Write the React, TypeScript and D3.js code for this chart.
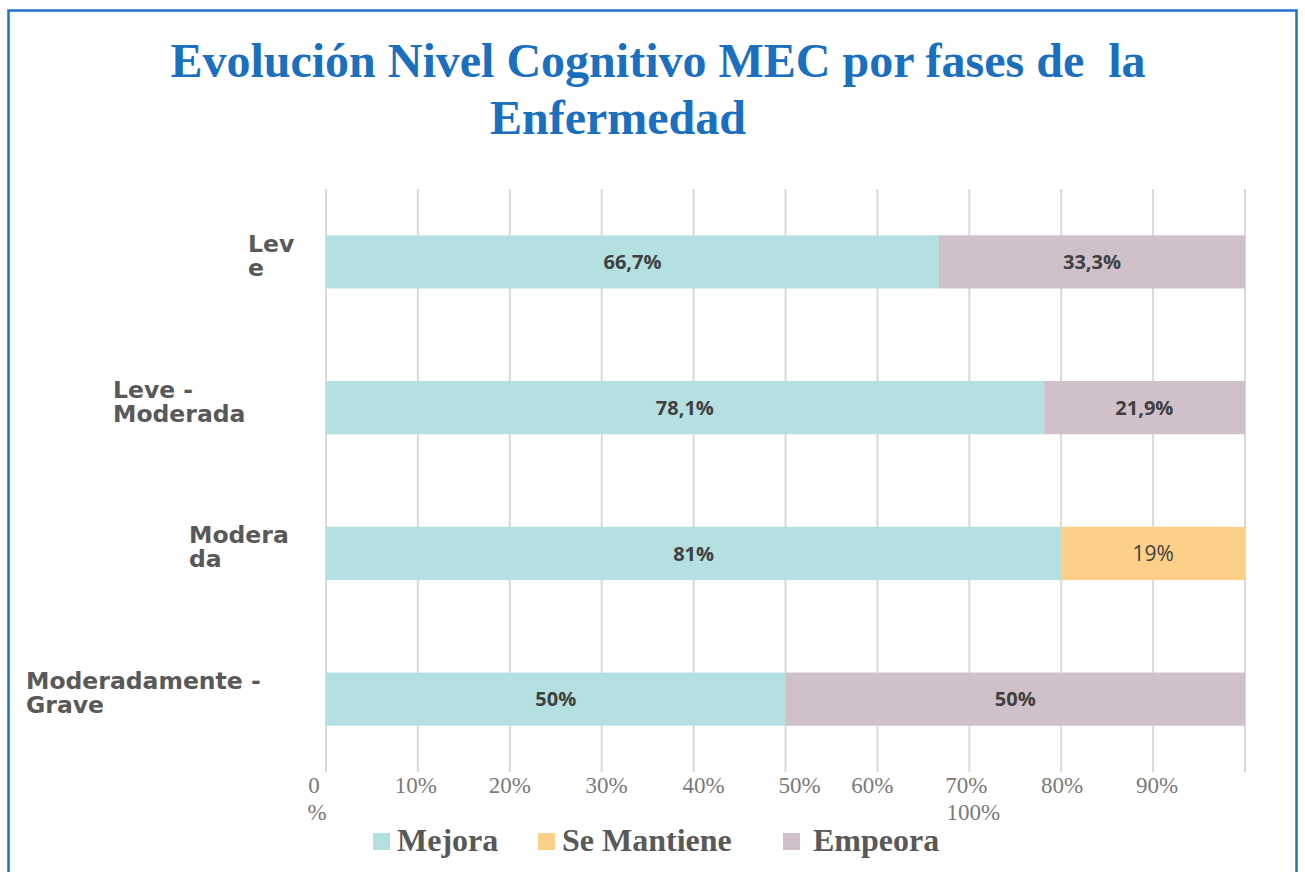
import { useEffect, useRef } from "react";
import * as d3 from "d3";

// data
const categories = ["Leve", "Leve - Moderada", "Moderada", "Moderadamente - Grave"];
const categoryLines = [["Lev", "e"], ["Leve -", "Moderada"], ["Modera", "da"], ["Moderadamente -", "Grave"]];
const seriesNames = ["Mejora", "Se Mantiene", "Empeora"];
const mejora = [66.7, 78.1, 80, 50];
const seMantiene = [0, 0, 20, 0];
const empeora = [33.3, 21.9, 0, 50];
const valueLabels = [["66,7%", "", "33,3%"], ["78,1%", "", "21,9%"], ["81%", "19%", ""], ["50%", "", "50%"]];
const tickValues = [0, 10, 20, 30, 40, 50, 60, 70, 80, 90, 100];
const colors = ["#b4e0e1", "#fdd08a", "#cfc0c9"];

const App = () => {
  const svgRef = useRef<SVGSVGElement>(null);

  useEffect(() => {
    const svg = d3.select(svgRef.current);
    svg.selectAll("*").remove();

    const W = 1305;
    const H = 872;
    const left = 326;
    const right = 1245;
    const top = 189;
    const bottom = 772;

    // frame
    svg.append("rect").attr("width", W).attr("height", H).attr("fill", "#fff");
    svg
      .append("rect")
      .attr("x", 8.5)
      .attr("y", 10.5)
      .attr("width", 1288)
      .attr("height", 900)
      .attr("fill", "none")
      .attr("stroke", "#1e73c8")
      .attr("stroke-width", 2.5);

    // title
    const title = svg
      .append("text")
      .attr("font-family", "'Liberation Serif', 'Times New Roman', serif")
      .attr("font-weight", "bold")
      .attr("font-size", 48)
      .attr("fill", "#1a6fbf")
      .attr("text-anchor", "middle")
      .style("white-space", "pre");
    title.append("tspan").attr("x", 658).attr("y", 77).text("Evolución Nivel Cognitivo MEC por fases de  la");
    title.append("tspan").attr("x", 618).attr("y", 134).text("Enfermedad");

    const x = d3.scaleLinear().domain([0, 100]).range([left, right]);
    const y = d3.scaleBand().domain(categories).range([top, bottom]).paddingInner(0.635).paddingOuter(0.3175);

    // gridlines
    svg
      .append("g")
      .selectAll("line")
      .data(tickValues)
      .join("line")
      .attr("x1", (d) => x(d))
      .attr("x2", (d) => x(d))
      .attr("y1", top)
      .attr("y2", bottom)
      .attr("stroke", "#d9d9d9")
      .attr("stroke-width", 2);

    // stacked bars
    const rows = categories.map((c, i) => ({
      cat: c,
      Mejora: mejora[i],
      "Se Mantiene": seMantiene[i],
      Empeora: empeora[i],
    }));
    const stack = d3.stack<any>().keys(seriesNames)(rows);

    stack.forEach((layer, si) => {
      const g = svg.append("g");
      g.selectAll("rect")
        .data(layer.filter((d) => d[1] - d[0] > 0))
        .join("rect")
        .attr("x", (d) => x(d[0]))
        .attr("y", (d) => y(d.data.cat)!)
        .attr("width", (d) => x(d[1]) - x(d[0]))
        .attr("height", y.bandwidth())
        .attr("fill", colors[si]);

      g.selectAll("text")
        .data(layer.filter((d) => d[1] - d[0] > 0))
        .join("text")
        .attr("x", (d) => x((d[0] + d[1]) / 2))
        .attr("y", (d) => y(d.data.cat)! + y.bandwidth() / 2)
        .attr("dy", "0.36em")
        .attr("text-anchor", "middle")
        .attr("font-family", "'Open Sans', sans-serif")
        .attr("font-weight", si === 1 ? "normal" : "bold")
        .attr("font-size", si === 1 ? 21 : 20)
        .attr("fill", "#404040")
        .text((d) => valueLabels[categories.indexOf(d.data.cat)][si]);
    });

    // category labels
    const labelLeft = [248, 113, 189, 26];
    categories.forEach((c, i) => {
      const cy = y(c)! + y.bandwidth() / 2;
      const t = svg
        .append("text")
        .attr("font-family", "'DejaVu Sans', Verdana, sans-serif")
        .attr("font-weight", "bold")
        .attr("font-size", 23.5)
        .attr("fill", "#595959");
      categoryLines[i].forEach((line, j) => {
        t.append("tspan").attr("x", labelLeft[i]).attr("y", cy - 10 + j * 24).text(line);
      });
    });

    // x tick labels (as in the source: "0 %" wrapped, 100% under 70%)
    const tickNudge = [-12, -2, 0, 5, 10, 14, -5, -3, 1, 4, 0];
    const tl = svg
      .append("g")
      .attr("font-family", "'Liberation Serif', 'Times New Roman', serif")
      .attr("font-size", 23)
      .attr("fill", "#7a7a7a")
      .attr("text-anchor", "middle");
    tickValues.forEach((v, i) => {
      if (v === 0) {
        const t = tl.append("text");
        t.append("tspan").attr("x", x(v) + tickNudge[i]).attr("y", 793).text("0");
        t.append("tspan").attr("x", x(v) + tickNudge[i] + 3).attr("y", 820).text("%");
      } else if (v === 100) {
        tl.append("text").attr("x", x(70) + 4).attr("y", 820).text(`${v}%`);
      } else {
        tl.append("text").attr("x", x(v) + tickNudge[i]).attr("y", 793).text(`${v}%`);
      }
    });

    // legend
    const legendX = [373, 538, 783];
    const legendGap = [24, 24, 30];
    const lg = svg.append("g");
    seriesNames.forEach((name, i) => {
      lg.append("rect")
        .attr("x", legendX[i])
        .attr("y", 833)
        .attr("width", 17)
        .attr("height", 17)
        .attr("fill", colors[i]);
      lg.append("text")
        .attr("x", legendX[i] + legendGap[i])
        .attr("y", 851)
        .attr("font-family", "'Liberation Serif', 'Times New Roman', serif")
        .attr("font-weight", "bold")
        .attr("font-size", 32)
        .attr("fill", "#595959")
        .text(name);
    });
  }, []);

  return (
    <svg
      ref={svgRef}
      width={1305}
      height={872}
      style={{ position: "absolute", left: 0, top: 0, display: "block" }}
    />
  );
};

export default App;
